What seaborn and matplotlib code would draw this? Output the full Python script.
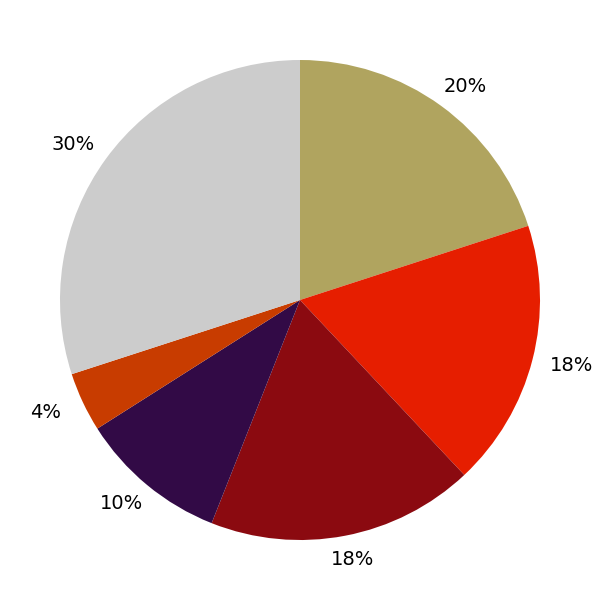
import matplotlib
matplotlib.use("Agg")
import numpy as np
import matplotlib.pyplot as plt
import seaborn as sns

sns.set_theme(style="white")
plt.rcParams['font.family'] = ['DejaVu Sans']

categories = ["A", "B", "C", "D", "E", "F"]
values = [20, 18, 18, 10, 4, 30]
labels = ["20%", "18%", "18%", "10%", "4%", "30%"]
colors = ["#B0A45F", "#E61E00", "#8B0A10", "#320A46", "#C83C00", "#CCCCCC"]

fig = plt.figure(figsize=(6, 6), dpi=100)
ax = fig.add_axes([0, 0, 1, 1])
wedges, texts = ax.pie(values, labels=labels, colors=colors, startangle=90,
                       counterclock=False, labeldistance=1.1,
                       wedgeprops={"linewidth": 0, "edgecolor": "none"},
                       textprops={"fontsize": 14, "color": "black"})
for w, t in zip(wedges, texts):
    ang = np.deg2rad((w.theta1 + w.theta2) / 2)
    t.set_position((1.17 * np.cos(ang), 1.1 * np.sin(ang)))
    t.set_ha("center")
    t.set_va("center")
ax.set_xlim(-1.25, 1.25)
ax.set_ylim(-1.25, 1.25)
ax.set_aspect("equal")
ax.axis("off")
fig.savefig("out.png", dpi=100, facecolor="white")
